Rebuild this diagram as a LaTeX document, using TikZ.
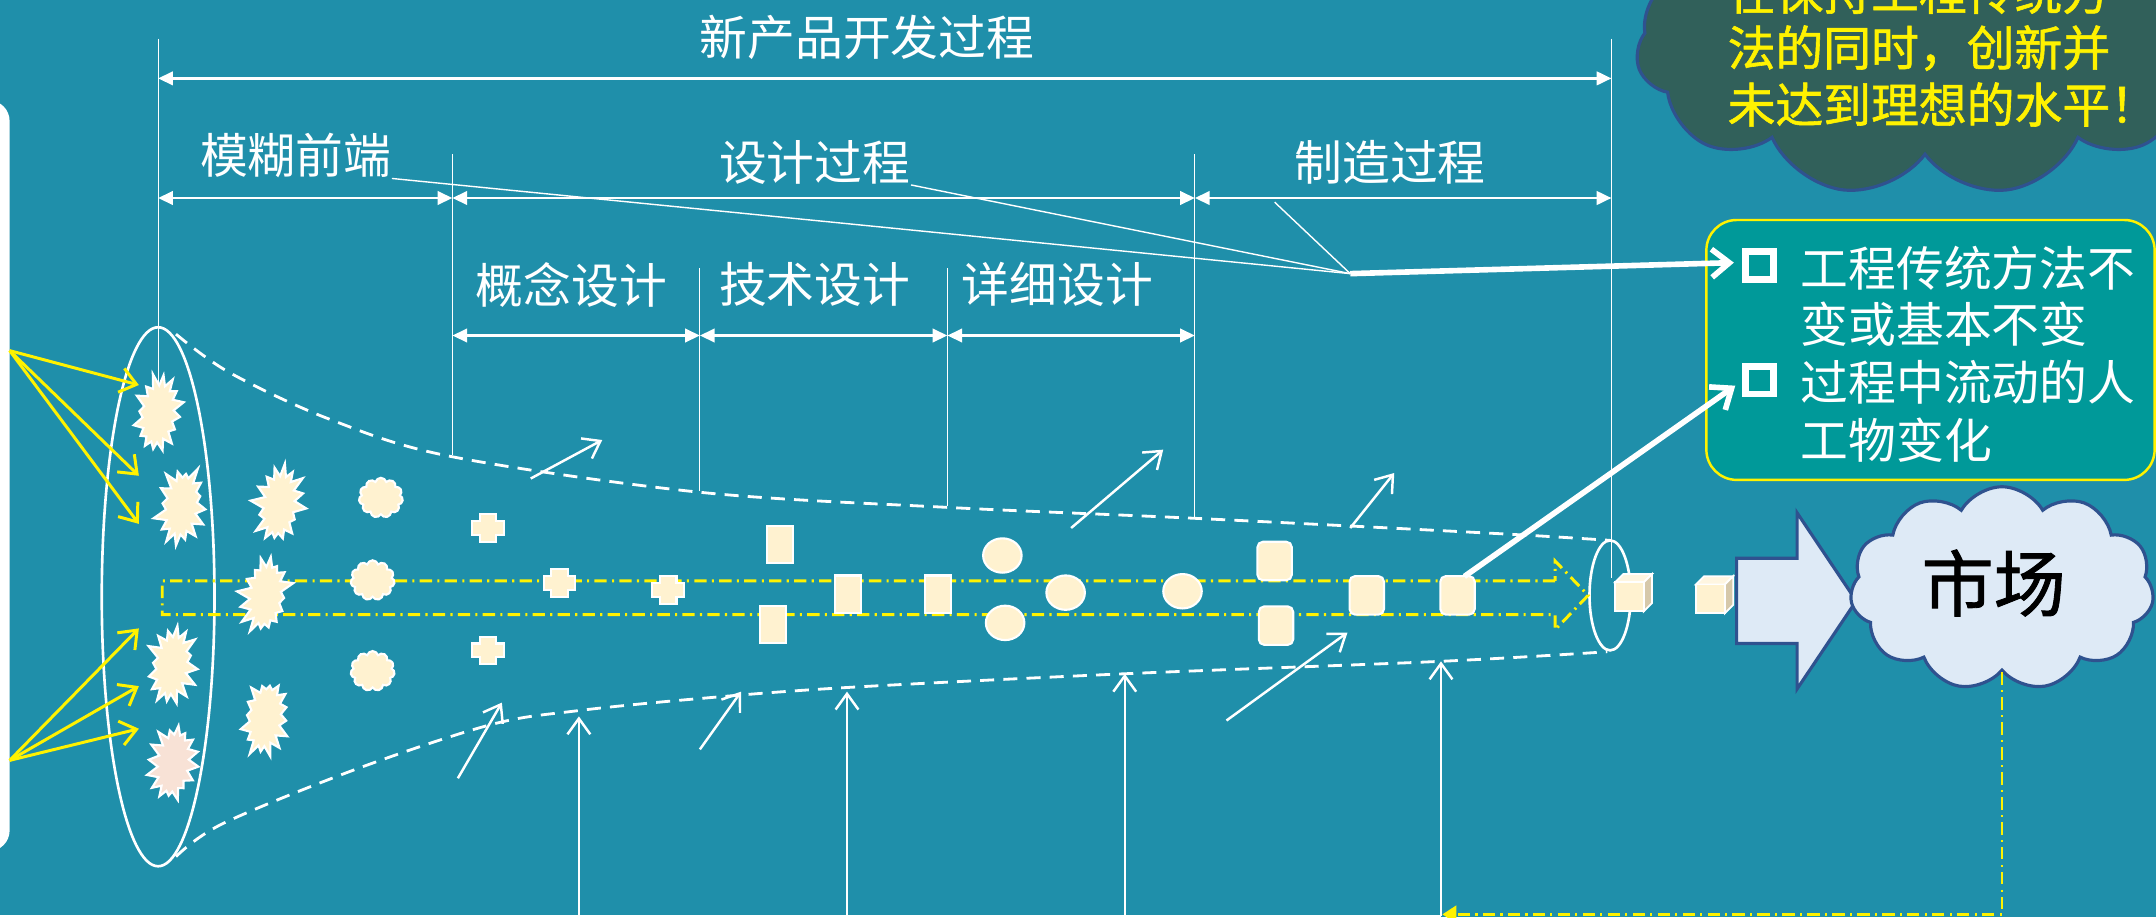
\documentclass[tikz,border=0pt]{standalone}
\usepackage{fontspec}
\newfontfamily\cjk{Noto Sans CJK SC}
\newfontfamily\cjkheavy[FakeBold=1.2]{Noto Sans CJK SC}
\usetikzlibrary{arrows.meta,calc,shapes.geometric,shapes.symbols,shapes.misc}
\newlength\pxu
\setlength\pxu{0.01375cm}
\definecolor{bgteal}{RGB}{31,143,170}
\definecolor{boxgreen}{RGB}{0,153,153}
\definecolor{darkcloud}{RGB}{49,96,90}
\definecolor{cloudblue}{RGB}{47,82,143}
\definecolor{lightblue}{RGB}{222,234,246}
\definecolor{cream}{RGB}{255,242,208}
\definecolor{pinkcream}{RGB}{248,226,214}
\definecolor{cubeside}{RGB}{214,200,170}
\definecolor{cubetop}{RGB}{255,246,225}
\tikzset{
  lbl/.style={font=\cjk\fontsize{13.6pt}{16pt}\selectfont, text=white, inner sep=0pt},
  ext/.style={white, line width=0.35pt},
  dim/.style={white, line width=0.8pt, {Triangle[length=4.2pt,width=3.8pt]}-{Triangle[length=4.2pt,width=3.8pt]}},
  funnel/.style={white, line width=0.8pt, dash pattern=on 4pt off 2.6pt},
  chan/.style={yellow, line width=0.85pt, dash pattern=on 3.5pt off 1.5pt on 0.6pt off 1.5pt},
  force/.style={white, line width=0.7pt, -{Straight Barb[length=4.5pt,width=6.5pt]}},
  feed/.style={yellow, line width=0.85pt, -{Straight Barb[length=4.5pt,width=7pt]}},
  leader/.style={white, line width=0.4pt},
  callout/.style={white, line width=1.6pt, -{Straight Barb[length=5pt,width=8pt]}},
  item/.style={fill=cream, draw=white, line width=0.6pt, inner sep=0pt},
  burst/.style={item, starburst, starburst points=16, starburst point height=10\pxu,
    random starburst=#1, minimum width=42\pxu, minimum height=62\pxu, rotate=-8},
  blob/.style={item, cloud, cloud puffs=11, cloud puff arc=150, aspect=1.1,
    minimum width=32\pxu, minimum height=29\pxu},
  plaque/.style={item, chamfered rectangle, chamfered rectangle xsep=3.5\pxu,
    chamfered rectangle ysep=3.5\pxu, minimum width=19\pxu, minimum height=27\pxu},
  oval/.style={item, ellipse, minimum width=28\pxu, minimum height=25\pxu},
  block/.style={item, rectangle, rounded corners=4\pxu, minimum width=25\pxu, minimum height=28\pxu},
  pics/plus/.style={code={
    \filldraw[fill=cream, draw=white, line width=0.6pt]
      (-11.5,-5) -- (-6,-5) -- (-6,-10) -- (6,-10) -- (6,-5) -- (11.5,-5) -- (11.5,5)
      -- (6,5) -- (6,10) -- (-6,10) -- (-6,5) -- (-11.5,5) -- cycle;}},
  pics/cube/.style={code={
    \filldraw[fill=cubetop, draw=white, line width=0.5pt]
      (-10.5,-10.5) -- (-4.5,-16.5) -- (16.5,-16.5) -- (10.5,-10.5) -- cycle;
    \filldraw[fill=cubeside, draw=white, line width=0.5pt]
      (10.5,-10.5) -- (16.5,-16.5) -- (16.5,4.5) -- (10.5,10.5) -- cycle;
    \filldraw[fill=cream, draw=white, line width=0.5pt] (-10.5,-10.5) rectangle (10.5,10.5);}},
}
\begin{document}
\begin{tikzpicture}[x=0.01375cm, y=-0.01375cm]
\useasboundingbox (0,0) rectangle (1568,667);
\clip (0,0) rectangle (1568,667);
\fill[bgteal] (0,0) rectangle (1568,667);

% white panel at the left edge
\fill[white, rounded corners=15\pxu] (-40,73) rectangle (7,619);

% extension lines of the dimension chains
\draw[ext] (115,28) -- (115,290);
\draw[ext] (1172,28) -- (1172,420);
\draw[ext] (329,112) -- (329,331);
\draw[ext] (869,112) -- (869,376);
\draw[ext] (509,195) -- (509,357);
\draw[ext] (689,195) -- (689,368);

% dimension chains
\coordinate (a0) at (115,57);  \coordinate (f0) at (1172,57);
\coordinate (a1) at (115,144); \coordinate (b1) at (329,144);
\coordinate (e1) at (869,144); \coordinate (f1) at (1172,144);
\coordinate (b2) at (329,244); \coordinate (c2) at (509,244);
\coordinate (d2) at (689,244); \coordinate (e2) at (869,244);
\draw[dim] (a0) -- (f0);
\draw[dim] (a1) -- (b1);
\draw[dim] (b1) -- (e1);
\draw[dim] (e1) -- (f1);
\draw[dim] (b2) -- (c2);
\draw[dim] (c2) -- (d2);
\draw[dim] (d2) -- (e2);

\node[lbl] (npd) at (630.5,27) {新产品开发过程};
\node[lbl] (fuzzy) at (215,113) {模糊前端};
\node[lbl] (design) at (592.5,118) {设计过程};
\node[lbl] (mfg) at (1011,118) {制造过程};
\node[lbl] (concept) at (415.5,207) {概念设计};
\node[lbl] (tech) at (592.5,207) {技术设计};
\node[lbl] (detail) at (769,207) {详细设计};

% funnel outline
\draw[funnel] plot[smooth, tension=0.55] coordinates {(128,243) (167,271) (240,305) (328,332)
  (509,358) (689,369) (870,377) (1088,388) (1171,393)};
\draw[funnel] plot[smooth, tension=0.55] coordinates {(128,623) (162,599) (260,559) (357,527)
  (419,517) (509,508) (616,500) (818,490) (1047,481) (1169,474)};
\node[draw=white, line width=0.75pt, ellipse, inner sep=0pt, minimum width=82\pxu,
  minimum height=392\pxu] (mouth) at (115,434) {};
\node[draw=white, line width=0.75pt, ellipse, inner sep=0pt, minimum width=30\pxu,
  minimum height=80\pxu] (outlet) at (1171,433) {};

% central channel
\draw[chan] (1131,422.5) -- (118,422.5) -- (118,447) -- (1131,447) -- (1131,458)
  -- (1155,433) -- (1131,408) -- cycle;

% ideas and artefacts flowing through the funnel
\node[burst=11] (s1) at (115,301) {};
\node[burst=23] (s2) at (132,368) {};
\node[burst=37] (s3) at (125,484) {};
\node[burst=41, fill=pinkcream] (s4) at (126,555) {};
\node[burst=53] (s5) at (203,367) {};
\node[burst=67] (s6) at (193,433) {};
\node[burst=79] (s7) at (193,522) {};
\node[blob] (c1) at (277,362) {};
\node[blob] (c2) at (271,422) {};
\node[blob] (c3) at (271,488) {};
\pic (x1) at (355,384) {plus};
\pic (x2) at (355,473) {plus};
\pic (x3) at (407,424) {plus};
\pic (x4) at (486,429) {plus};
\node[plaque] (p1) at (567,396) {};
\node[plaque] (p2) at (562,454) {};
\node[plaque] (p3) at (617,432) {};
\node[plaque] (p4) at (682,432) {};
\node[oval] (o1) at (729,404) {};
\node[oval] (o2) at (731,453) {};
\node[oval] (o3) at (775,431) {};
\node[oval] (o4) at (860,430) {};
\node[block] (r1) at (927,408) {};
\node[block] (r2) at (928,455) {};
\node[block] (r3) at (994,433) {};
\node[block] (r4) at (1060,433) {};
\pic (k1) at (1185,434) {cube};
\pic (k2) at (1244,435.5) {cube};

% inputs from the left panel
\coordinate (srcu) at (7,255);
\coordinate (srcl) at (7,553);
\draw[feed] (srcu) -- (101,280);
\draw[feed] (srcu) -- (101,346);
\draw[feed] (srcu) -- (101,381);
\draw[feed] (srcl) -- (101,457);
\draw[feed] (srcl) -- (101,499);
\draw[feed] (srcl) -- (101,530);

% influences acting on the funnel
\draw[force] (386,348) -- (438,320);
\draw[force] (779,384) -- (846,327);
\draw[force] (982,384) -- (1014,344);
\draw[force] (333,566) -- (365,511);
\draw[force] (509,545) -- (539,503);
\draw[force] (892,524) -- (980,460);
\draw[force] (421,666) -- (421,521);
\draw[force] (616,666) -- (616,503);
\draw[force] (818,666) -- (818,490);
\draw[force] (1048,666) -- (1048,481);
\draw[white, line width=0.45pt] (0,666) -- (1048,666);

% market
\draw[fill=lightblue, draw=cloudblue, line width=0.9pt] (1263,406) -- (1307,406) -- (1307,373)
  -- (1350,437) -- (1307,501) -- (1307,468) -- (1263,468) -- cycle;
\node[cloud, cloud puffs=11, cloud puff arc=120, aspect=1.5, fill=lightblue, draw=cloudblue,
  line width=0.9pt, minimum width=221\pxu, minimum height=148\pxu] (market) at (1456,428) {};
\node[font=\cjkheavy\fontsize{20.5pt}{24pt}\selectfont, inner sep=0pt] (marketlbl) at (1450,424) {市场};
\coordinate (ret) at (1049,665);
\draw[chan, line width=0.7pt, -{Triangle[length=4pt,width=5pt]}] (market.south) |- (ret);

% remark cloud
\node[cloud, cloud puffs=11, cloud puff arc=120, aspect=2, fill=darkcloud, draw=cloudblue,
  line width=0.9pt, minimum width=420\pxu, minimum height=215\pxu] (note) at (1400,35) {};
\begin{scope}[every node/.style={lbl, text=yellow, anchor=west,
    font=\cjkheavy\fontsize{13.6pt}{16pt}\selectfont}]
\node (n1) at (1256,-6) {在保持工程传统方};
\node (n2) at (1256,35) {法的同时，创新并};
\node (n3) at (1256,76) {未达到理想的水平！};
\end{scope}

% findings box
\node[draw=yellow, line width=0.7pt, fill=boxgreen, rounded corners=22\pxu, minimum width=326\pxu,
  minimum height=189\pxu] (box) at (1404,254.5) {};
\node[draw=white, line width=1.95pt, minimum size=20\pxu, inner sep=0pt] (cb1) at (1279.5,193) {};
\node[draw=white, line width=1.95pt, minimum size=20\pxu, inner sep=0pt] (cb2) at (1279.5,276.5) {};
\node[lbl, anchor=west] (t1) at (1309,195) {工程传统方法不};
\node[lbl, anchor=west] (t2) at (1309,236) {变或基本不变};
\node[lbl, anchor=west] (t3) at (1309,278) {过程中流动的人};
\node[lbl, anchor=west] (t4) at (1309,320) {工物变化};

% leaders to the findings
\coordinate (hub) at (982,199);
\coordinate (mfgpt) at (927,147);
\draw[leader] (fuzzy.south east) -- (hub);
\draw[leader] (design.south east) -- (hub);
\draw[leader] (mfgpt) -- (hub);
\draw[callout] (hub) -- ($(cb1.west)+(-6,-2)$);
\draw[callout] ($(r4.north)+(5,1)$) -- ($(cb2.west)+(-5,4)$);
\end{tikzpicture}
\end{document}
